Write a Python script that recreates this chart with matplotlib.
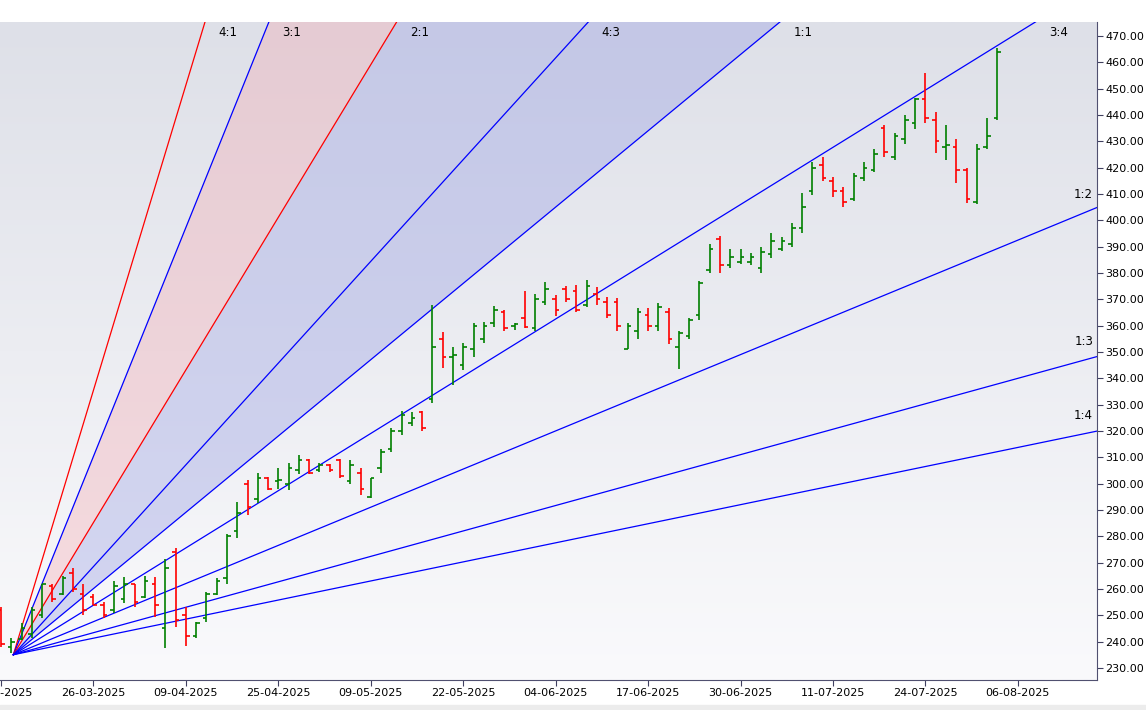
import matplotlib
matplotlib.use("Agg")
import matplotlib.pyplot as plt
import numpy as np

opens  = [252,238,241,243,250,261,258,266,258,257,254,252,256,262,257,262,245,274,250,242,249,258,264,282,300,294,302,301,300,305,309,305,307,309,301,304,295,306,313,320,323,327,332,355,348,345,351,355,361,365,360,363,359,369,370,374,373,368,372,369,369,351,358,364,360,365,352,356,364,381,393,383,384,384,382,387,389,391,397,411,421,415,411,408,416,419,435,424,431,437,446,438,428,428,419,407,428,439]
highs  = [253,241.5,247,253,262,262,265,268,262,258,255,263,264.5,262,265,264.5,271.5,275.5,253,247.5,259,264,281,293,301.5,304,302.5,306,308,311,309.5,308,307.5,309.5,309,306,302,313,321,327.5,327,327.5,368,357.5,352,353.5,361,361.5,367.5,366,361,373,372,376.5,371.5,375,375.5,377.5,374.5,371,370.5,361,366.5,366.5,368.5,366.5,358,363,377,391,394,389,389,387.5,390,395,393.5,399,410.5,422,424,416.5,412.5,418,422,427,436,433,440,446.5,456,441,436,431,420,429,439,465.5]
lows   = [238,235.5,240.5,241.5,249,255,257.5,259,250,254,249,251,254.5,253,256.5,249.5,237.5,245.5,238.5,241.5,247.5,257.5,262,279.5,288,292.5,297.5,298,297.5,303.5,303.5,304.5,304.5,302,300,295.5,294.5,304,312,318.5,322,320,330.5,344,337.5,343,348,353.5,359.5,358,358.5,359,358,368,363.5,369,365,367,368,363,358,351,355,358,358,353,343.5,355,362,380,380,382,383.5,383,380,385.5,388.5,390,395,409.5,415,409,405,407.5,415,418.5,424,423,429,434.5,437,425.5,423,414,406.5,406,427,438]
closes = [239,240,245,252,262,256,264,260,252,254,250,261,262,255,263,254,268,248,242,247,258,263,280,289,291,302,298,301.5,306,309,304,307,305,303,307,298,302,312,320,326,325,321,352,348,349,352,360,360,366,359,360.5,359.5,370,374,366,370,366,375,370,364,360,360,365,360,367,355,357,362,376,389,383,386,386,386,388,392,392,397,405,420,416,411,407,417,420,425,426,432,438,446,439,430,428.5,419,408,427,432,464]
date_labels = ["12-03-2025","26-03-2025","09-04-2025","25-04-2025","09-05-2025","22-05-2025",
               "04-06-2025","17-06-2025","30-06-2025","11-07-2025","24-07-2025","06-08-2025"]
tick_step = 9
price_ticks = list(range(230, 471, 10))

fan_ratios = [(4,1),(3,1),(2,1),(4,3),(1,1),(3,4),(1,2),(1,3),(1,4)]
fan_colors = ["#ff0000","#0000ff","#ff0000","#0000ff","#0000ff","#0000ff","#0000ff","#0000ff","#0000ff"]
origin_x, origin_y, unit = 1.2, 235.0, 3.22

W, H = 1146, 710
fig = plt.figure(figsize=(W/100, H/100), dpi=100)
fig.patch.set_facecolor("white")
fig.add_artist(plt.Rectangle((0, 0), 1, 5/H, transform=fig.transFigure, color="#ececec", zorder=0))
ax = fig.add_axes([0, 30/H, 1097/W, (680-22)/H])
xmin, xmax = -0.1, 106.7
ymin, ymax = 225.4, 475.3
ax.set_xlim(xmin, xmax); ax.set_ylim(ymin, ymax)

grad = np.linspace(0, 1, 256).reshape(-1, 1)
top = np.array([222, 224, 232]) / 255; bot = np.array([250, 250, 252]) / 255
img = top * (1 - grad[..., None]) + bot * grad[..., None]
ax.imshow(img[::-1], extent=[xmin, xmax, ymin, ymax], aspect="auto", origin="lower", zorder=0)

xs = np.array([origin_x, xmax + 5])
def line(r): return origin_y + unit * r * (xs - origin_x)
ratios = [a / b for a, b in fan_ratios]
ax.fill_between(xs, line(ratios[1]), line(ratios[2]), color="#f4a0a8", alpha=0.32, lw=0, zorder=1)
ax.fill_between(xs, line(ratios[2]), line(ratios[3]), color="#a0a6e4", alpha=0.4, lw=0, zorder=1)
ax.fill_between(xs, line(ratios[3]), line(ratios[4]), color="#a0a6e4", alpha=0.42, lw=0, zorder=1)
for (a, b), r, c in zip(fan_ratios, ratios, fan_colors):
    ax.plot(xs, line(r), color=c, lw=0.9, zorder=2)
    lab = f"{a}:{b}"
    xhit = origin_x + (ymax - origin_y) / (unit * r)
    if xhit < xmax - 3:
        ax.text(xhit + 1.3, 471.5, lab, fontsize=8.5, ha="left", va="center", zorder=5)
    else:
        yv = origin_y + unit * r * (105.4 - origin_x)
        ax.text(105.4, yv + 4.5, lab, fontsize=8.5, ha="center", va="bottom", zorder=5)

idx = np.arange(len(opens))
cols = ["#008000" if c >= o else "#ff0000" for o, c in zip(opens, closes)]
ax.vlines(idx, lows, highs, colors=cols, lw=1.2, zorder=4)
ax.hlines(opens, idx - 0.35, idx, colors=cols, lw=1.2, zorder=4)
ax.hlines(closes, idx, idx + 0.35, colors=cols, lw=1.2, zorder=4)

ax.yaxis.tick_right()
ax.set_yticks(price_ticks)
ax.set_yticklabels([f"{p:.2f}" for p in price_ticks], fontsize=8)
ax.set_xticks([i * tick_step for i in range(len(date_labels))])
ax.set_xticklabels(date_labels, fontsize=8)
ax.tick_params(axis="both", length=4, color="#404060", pad=2)
for s in ["top", "left"]:
    ax.spines[s].set_visible(False)
for s in ["right", "bottom"]:
    ax.spines[s].set_color("#505070")
fig.savefig("out.png", dpi=100)
